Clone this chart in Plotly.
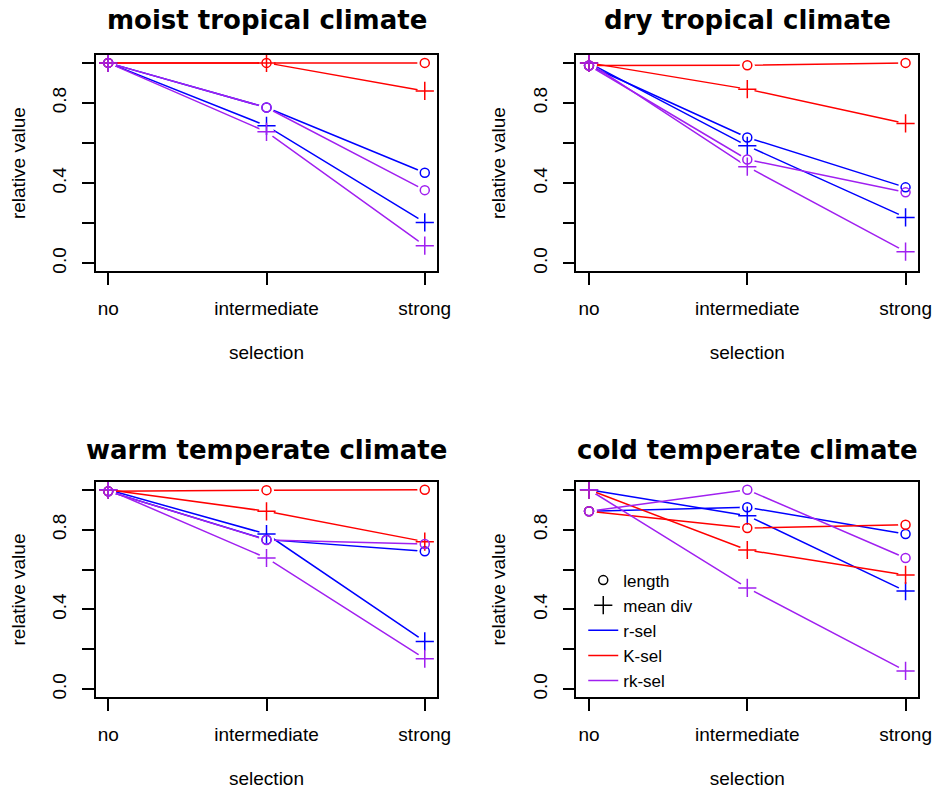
import plotly.graph_objects as go

# ---------------- data ----------------
categories = ["no", "intermediate", "strong"]
climates = ["moist tropical climate", "dry tropical climate",
            "warm temperate climate", "cold temperate climate"]

# moist tropical
moist_r_len = [1.0, 0.777, 0.452]
moist_r_div = [1.0, 0.686, 0.204]
moist_K_len = [1.0, 1.0, 1.0]
moist_K_div = [1.0, 1.0, 0.860]
moist_rk_len = [1.0, 0.777, 0.365]
moist_rk_div = [1.0, 0.656, 0.088]

# dry tropical
dry_r_len = [0.987, 0.628, 0.379]
dry_r_div = [1.0, 0.586, 0.229]
dry_K_len = [0.987, 0.988, 1.0]
dry_K_div = [1.0, 0.869, 0.698]
dry_rk_len = [0.987, 0.518, 0.354]
dry_rk_div = [1.0, 0.482, 0.058]

# warm temperate
warm_r_len = [0.992, 0.750, 0.692]
warm_r_div = [1.0, 0.778, 0.240]
warm_K_len = [0.992, 0.998, 1.0]
warm_K_div = [1.0, 0.892, 0.740]
warm_rk_len = [0.992, 0.748, 0.728]
warm_rk_div = [1.0, 0.658, 0.153]

# cold temperate
cold_r_len = [0.892, 0.912, 0.778]
cold_r_div = [1.0, 0.870, 0.492]
cold_K_len = [0.892, 0.808, 0.825]
cold_K_div = [1.0, 0.698, 0.573]
cold_rk_len = [0.892, 1.0, 0.658]
cold_rk_div = [1.0, 0.508, 0.092]

y_tick_vals = [0.0, 0.2, 0.4, 0.6, 0.8, 1.0]
y_tick_text = ["0.0", "", "0.4", "", "0.8", ""]

series_names = ["r-sel", "K-sel", "rk-sel"]
measure_names = ["length", "mean div"]

panels = [
    {"r-sel": (moist_r_len, moist_r_div), "K-sel": (moist_K_len, moist_K_div), "rk-sel": (moist_rk_len, moist_rk_div)},
    {"r-sel": (dry_r_len, dry_r_div), "K-sel": (dry_K_len, dry_K_div), "rk-sel": (dry_rk_len, dry_rk_div)},
    {"r-sel": (warm_r_len, warm_r_div), "K-sel": (warm_K_len, warm_K_div), "rk-sel": (warm_rk_len, warm_rk_div)},
    {"r-sel": (cold_r_len, cold_r_div), "K-sel": (cold_K_len, cold_K_div), "rk-sel": (cold_rk_len, cold_rk_div)},
]

# ---------------- styles ----------------
colors = {"r-sel": "#0000FF", "K-sel": "#FF0000", "rk-sel": "#A020F0"}
symbols = {"length": "circle-open", "mean div": "cross-thin-open"}
sizes = {"length": 9, "mean div": 13}

W, H = 947, 791
FONT = "Liberation Sans, Arial, sans-serif"
TFONT = "DejaVu Sans, sans-serif"

col_px = [(97, 444), (585, 932)]
row_px = [(55, 272), (483, 699)]

fig = go.Figure()

for i, pdata in enumerate(panels):
    ax = "" if i == 0 else str(i + 1)
    xa, ya = "x" + ax, "y" + ax
    # lines
    for s in series_names:
        for m, vals in zip(measure_names, pdata[s]):
            fig.add_trace(go.Scatter(x=categories, y=vals, mode="lines", xaxis=xa, yaxis=ya,
                                     line=dict(color=colors[s], width=1.5),
                                     showlegend=False, hoverinfo="skip"))
    # gap masks (R type="b")
    for s in series_names:
        for m, vals in zip(measure_names, pdata[s]):
            fig.add_trace(go.Scatter(x=categories, y=vals, mode="markers", xaxis=xa, yaxis=ya,
                                     marker=dict(symbol="circle", size=15, color="white",
                                                 opacity=1, line=dict(width=0)),
                                     showlegend=False, hoverinfo="skip"))
    # markers
    for s in series_names:
        for m, vals in zip(measure_names, pdata[s]):
            fig.add_trace(go.Scatter(x=categories, y=vals, mode="markers", xaxis=xa, yaxis=ya,
                                     name=f"{s} {m}",
                                     marker=dict(symbol=symbols[m], size=sizes[m], color=colors[s],
                                                 line=dict(color=colors[s], width=1.5)),
                                     showlegend=False))

# legend entries (drawn in the cold temperate panel)
for m in measure_names:
    fig.add_trace(go.Scatter(x=[None], y=[None], mode="markers", xaxis="x4", yaxis="y4",
                             name=m, marker=dict(symbol=symbols[m], size=sizes[m], color="black",
                                                 line=dict(color="black", width=1.5))))
for s in series_names:
    fig.add_trace(go.Scatter(x=[None], y=[None], mode="lines", xaxis="x4", yaxis="y4",
                             name=s, line=dict(color=colors[s], width=1.5)))

layout = dict(width=W, height=H, margin=dict(l=0, r=0, t=0, b=0),
              plot_bgcolor="white", paper_bgcolor="white", showlegend=True,
              font=dict(family=FONT, size=19, color="black"))

annotations = []
for i in range(4):
    c, r = i % 2, i // 2
    ax = "" if i == 0 else str(i + 1)
    xd = [col_px[c][0] / W, col_px[c][1] / W]
    yd = [1 - row_px[r][1] / H, 1 - row_px[r][0] / H]
    layout["xaxis" + ax] = dict(
        domain=xd, anchor="y" + ax, type="category", categoryorder="array",
        categoryarray=categories, range=[-0.08, 2.08],
        showline=True, mirror=True, linecolor="black", linewidth=1.5,
        ticks="outside", ticklen=12, tickwidth=1.5, tickcolor="black",
        showgrid=False, zeroline=False, ticklabelstandoff=7,
        tickfont=dict(family=FONT, size=19, color="black"),
        title=dict(text="selection", font=dict(family=FONT, size=19, color="black"), standoff=28),
        fixedrange=True)
    layout["yaxis" + ax] = dict(
        domain=yd, anchor="x" + ax, range=[-0.04, 1.04],
        tickmode="array", tickvals=y_tick_vals, ticktext=y_tick_text, tickangle=-90,
        showline=True, mirror=True, linecolor="black", linewidth=1.5,
        ticks="outside", ticklen=12, tickwidth=1.5, tickcolor="black",
        showgrid=False, zeroline=False, ticklabelstandoff=8,
        tickfont=dict(family=FONT, size=19, color="black"),
        title=dict(text="relative value", font=dict(family=FONT, size=19, color="black"), standoff=19),
        fixedrange=True)
    title_y_px = 20 if r == 0 else 451
    annotations.append(dict(text=f"<b>{climates[i]}</b>", xref="paper", yref="paper",
                            x=(xd[0] + xd[1]) / 2, y=1 - title_y_px / H,
                            xanchor="center", yanchor="middle", showarrow=False,
                            font=dict(family=TFONT, size=26, color="black")))

layout["annotations"] = annotations
layout["legend"] = dict(x=592 / W, y=1 - 564 / H, xanchor="left", yanchor="top",
                        bgcolor="rgba(0,0,0,0)", borderwidth=0,
                        font=dict(family=FONT, size=17, color="black"),
                        tracegroupgap=0, itemwidth=30)
fig.update_layout(**layout)

fig.write_html("out.html")
